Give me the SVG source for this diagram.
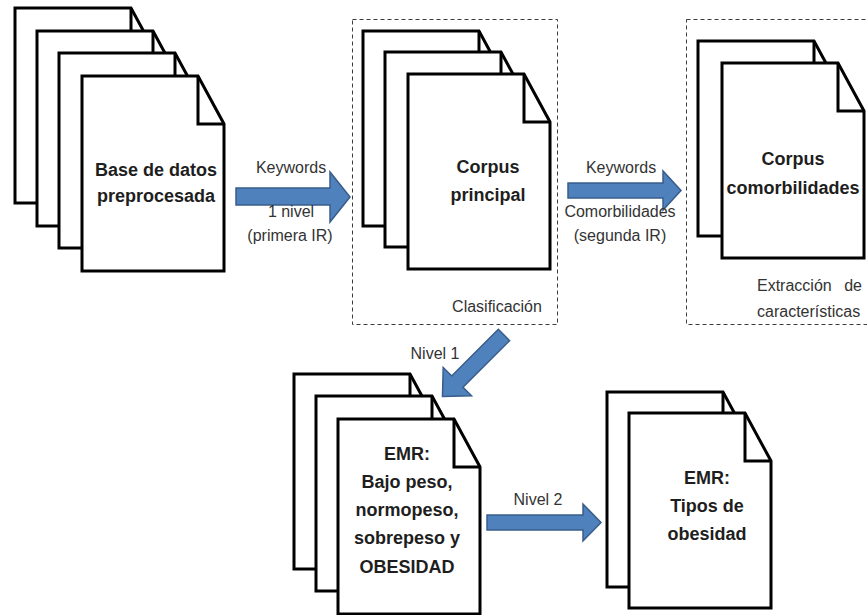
<svg xmlns="http://www.w3.org/2000/svg" xmlns:xlink="http://www.w3.org/1999/xlink" width="867" height="615" viewBox="0 0 867 615">
  <style>
    .page { fill: #ffffff; stroke: #000000; stroke-width: 3; stroke-linejoin: miter; }
    .fold { fill: none; stroke: #000000; stroke-width: 3; }
    .doc-text { font-family: "Liberation Sans", Arial, sans-serif; font-weight: bold; font-size: 18px; fill: #1e1e1e; text-anchor: middle; }
    .label { font-family: "Liberation Sans", Arial, sans-serif; font-size: 16px; fill: #333333; text-anchor: middle; }
    .label.start { text-anchor: start; }
    .label.end { text-anchor: end; }
    .group-box { fill: none; stroke: #3c3c3c; stroke-width: 1; stroke-dasharray: 4 3; }
    .arrow { fill: #4f81bd; stroke: #385d8a; stroke-width: 1.5; stroke-linejoin: miter; }
  </style>
  <defs>
    <!-- a single sheet with a folded top-right corner, 142 x 195 -->
    <g id="sheet">
      <path class="page" d="M0,0 H116 L142,48 V195 H0 Z"/>
      <path class="fold" d="M116,0 V48 H142"/>
    </g>
  </defs>

  <rect width="867" height="615" fill="#ffffff"/>

  <!-- dashed stage frames -->
  <g id="stage-clasificacion">
    <rect class="group-box" x="352.5" y="19.5" width="205" height="305"/>
    <text class="label" x="497" y="312">Clasificación</text>
  </g>
  <g id="stage-extraccion">
    <rect class="group-box" x="686.5" y="19.5" width="190" height="305"/>
    <text class="label start" x="757" y="291">Extracción</text>
    <text class="label end" x="862" y="291">de</text>
    <text class="label start" x="757" y="317">características</text>
  </g>

  <!-- document stacks -->
  <g id="base-datos">
    <use xlink:href="#sheet" x="15" y="8"/>
    <use xlink:href="#sheet" x="37" y="31"/>
    <use xlink:href="#sheet" x="59" y="53"/>
    <use xlink:href="#sheet" x="82" y="76"/>
    <text class="doc-text" x="156" y="176">Base de datos</text>
    <text class="doc-text" x="156" y="202">preprocesada</text>
  </g>

  <g id="corpus-principal">
    <use xlink:href="#sheet" x="363" y="31"/>
    <use xlink:href="#sheet" x="385" y="52"/>
    <use xlink:href="#sheet" x="408" y="74"/>
    <text class="doc-text" x="488" y="173">Corpus</text>
    <text class="doc-text" x="488" y="201">principal</text>
  </g>

  <g id="corpus-comorbilidades">
    <use xlink:href="#sheet" x="698" y="41"/>
    <use xlink:href="#sheet" x="722" y="63"/>
    <text class="doc-text" x="793" y="165">Corpus</text>
    <text class="doc-text" x="793" y="194">comorbilidades</text>
  </g>

  <g id="emr-nivel1">
    <use xlink:href="#sheet" x="294" y="374"/>
    <use xlink:href="#sheet" x="316" y="396"/>
    <use xlink:href="#sheet" x="338" y="419"/>
    <text class="doc-text" x="407" y="460">EMR:</text>
    <text class="doc-text" x="407" y="488">Bajo peso,</text>
    <text class="doc-text" x="407" y="516">normopeso,</text>
    <text class="doc-text" x="407" y="544">sobrepeso y</text>
    <text class="doc-text" x="407" y="573">OBESIDAD</text>
  </g>

  <g id="emr-tipos">
    <use xlink:href="#sheet" x="607" y="392"/>
    <use xlink:href="#sheet" x="629" y="413"/>
    <text class="doc-text" x="707" y="484">EMR:</text>
    <text class="doc-text" x="707" y="512">Tipos de</text>
    <text class="doc-text" x="707" y="540">obesidad</text>
  </g>

  <!-- block arrows between stages -->
  <g id="connectors">
    <path class="arrow" d="M236,188 H330 V172 L350,197 L330,222 V205 H236 Z"/>
    <text class="label" x="291" y="173">Keywords</text>
    <text class="label" x="291" y="217">1 nivel</text>
    <text class="label" x="290" y="241">(primera IR)</text>

    <path class="arrow" d="M568,183 H663 V171 L681,190.5 L663,210 V198 H568 Z"/>
    <text class="label" x="621" y="173">Keywords</text>
    <text class="label" x="620" y="217">Comorbilidades</text>
    <text class="label" x="620" y="241">(segunda IR)</text>

    <path class="arrow" transform="translate(504,335) rotate(135)" d="M0,-8 H66 V-20 L87,0 L66,20 V8 H0 Z"/>
    <text class="label" x="435" y="359">Nivel 1</text>

    <path class="arrow" d="M487,515 H583 V504 L601,522.5 L583,541 V530 H487 Z"/>
    <text class="label" x="538" y="505">Nivel 2</text>
  </g>
</svg>
